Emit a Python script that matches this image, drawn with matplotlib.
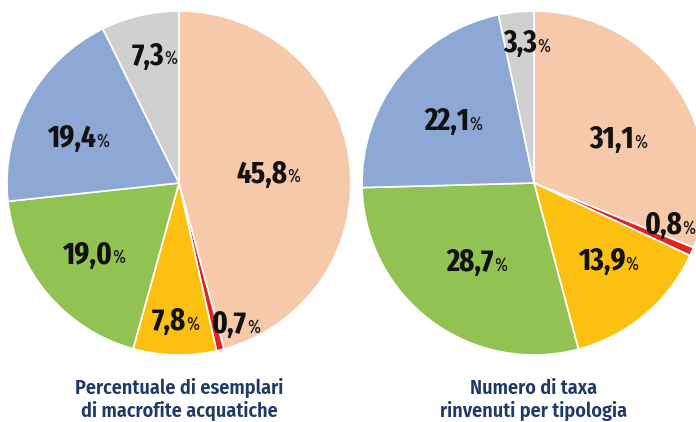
import numpy as np
import matplotlib.pyplot as plt

# Data (clockwise from 12 o'clock)
left_vals = [45.8, 0.7, 7.8, 19.0, 19.4, 7.3]
right_vals = [31.1, 0.8, 13.9, 28.7, 22.1, 3.3]
left_title = ['Percentuale di esemplari', 'di macrofite acquatiche']
right_title = ['Numero di taxa', 'rinvenuti per tipologia']

colors = ['#F5C9AA', '#E02424', '#FCC010', '#92C251', '#8EA8D6', '#D0D0D0']

# label placement tweaks (radius fraction, angle shift in degrees)
left_lab = [(0.52, -2), (0.89, 8), (0.81, 0), (0.65, 0), (0.64, 5), (0.75, -2)]
right_lab = [(0.55, -7), (0.83, 6), (0.63, 3), (0.57, 1), (0.59, 1), (0.81, -3)]

W, H = 696, 422
fig = plt.figure(figsize=(W / 100, H / 100), dpi=100)
ax = fig.add_axes([0, 0, 1, 1])
ax.set_xlim(0, W)
ax.set_ylim(0, H)
ax.set_aspect('equal')
ax.axis('off')

num_font = 'Fira Sans Extra Condensed'
title_font = 'Fira Sans Condensed'
R = 172
renderer = fig.canvas.get_renderer()


def draw_label(x, y, val):
    num = ax.text(x, y, f'{val:.1f}'.replace('.', ','), fontsize=22.5, fontweight='bold',
                  family=num_font, ha='left', va='center', color='#111111')
    pct = ax.text(x, y, '%', fontsize=13.5, family=num_font, ha='left', va='center', color='#111111')
    w1 = num.get_window_extent(renderer).width
    w2 = pct.get_window_extent(renderer).width
    x0 = x - (w1 + w2) / 2
    num.set_x(x0)
    pct.set_x(x0 + w1)
    pct.set_y(y - 2.5)


for cx, vals, labs, title in [(179, left_vals, left_lab, left_title),
                              (534, right_vals, right_lab, right_title)]:
    cy = H - 183
    wedges, _ = ax.pie(vals, colors=colors, startangle=90, counterclock=False,
                       radius=R, center=(cx, cy),
                       wedgeprops=dict(edgecolor='white', linewidth=1.2))
    for w, v, (rf, da) in zip(wedges, vals, labs):
        mid = np.deg2rad((w.theta1 + w.theta2) / 2 + da)
        draw_label(cx + rf * R * np.cos(mid), cy + rf * R * np.sin(mid), v)
    for k, line in enumerate(title):
        ax.text(cx, H - 394 - 23 * k, line, fontsize=14.5, fontweight='semibold',
                family=title_font, ha='center', va='baseline', color='#1E3A66')

ax.set_xlim(0, W)
ax.set_ylim(0, H)

fig.savefig('out.png', dpi=100)
